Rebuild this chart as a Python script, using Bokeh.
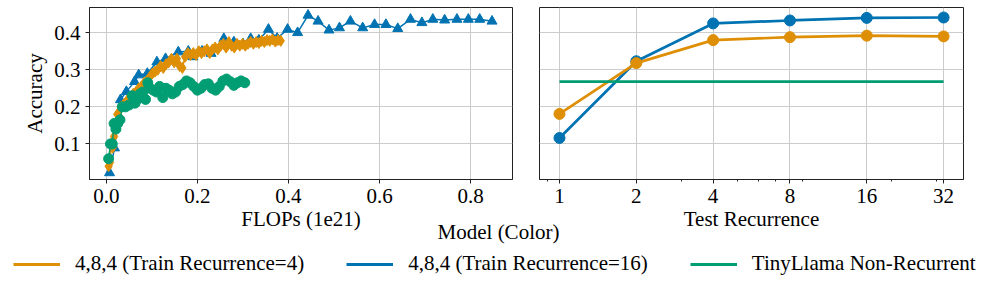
from bokeh.plotting import figure
from bokeh.models import Range1d, FixedTicker, PrintfTickFormatter, Legend, LegendItem, Label
from bokeh.layouts import row, column
from bokeh.embed import file_html
from bokeh.resources import INLINE

BLUE = "#0173B2"
ORANGE = "#DE8F05"
GREEN = "#029E73"
FONT = "Liberation Serif"
FS = "21px"

# ---------------- data: left panel (accuracy vs FLOPs, 1e21) ----------------
flops_r16 = [0.007, 0.018, 0.031, 0.044, 0.062, 0.071, 0.090, 0.111, 0.130, 0.158,
             0.180, 0.190, 0.210, 0.230, 0.258, 0.280, 0.300, 0.317, 0.335, 0.356,
             0.375, 0.398, 0.420, 0.443, 0.465, 0.489, 0.512, 0.536, 0.563, 0.589,
             0.614, 0.640, 0.668, 0.693, 0.717, 0.743, 0.770, 0.795, 0.820, 0.847]
acc_r16 = [0.022, 0.089, 0.219, 0.241, 0.268, 0.286, 0.290, 0.321, 0.330, 0.348,
           0.350, 0.335, 0.350, 0.344, 0.384, 0.375, 0.370, 0.384, 0.380, 0.409,
           0.385, 0.409, 0.400, 0.447, 0.431, 0.407, 0.413, 0.431, 0.413, 0.422,
           0.422, 0.411, 0.436, 0.427, 0.436, 0.434, 0.436, 0.436, 0.436, 0.431]

flops_r4 = [0.005, 0.008, 0.011, 0.014, 0.017, 0.020, 0.024, 0.028, 0.032, 0.037,
            0.042, 0.047, 0.053, 0.059, 0.065, 0.071, 0.077, 0.083, 0.089, 0.095,
            0.101, 0.107, 0.113, 0.119, 0.125, 0.131, 0.137, 0.143, 0.149, 0.155,
            0.161, 0.167, 0.173, 0.179, 0.185, 0.191, 0.197, 0.203, 0.209, 0.215,
            0.221, 0.227, 0.233, 0.239, 0.245, 0.251, 0.257, 0.263, 0.269, 0.275,
            0.281, 0.287, 0.293, 0.299, 0.305, 0.311, 0.317, 0.323, 0.329, 0.335,
            0.341, 0.347, 0.353, 0.359, 0.365, 0.371, 0.377, 0.383]
acc_r4 = [0.040, 0.050, 0.100, 0.090, 0.120, 0.140, 0.180, 0.175, 0.200, 0.205,
          0.210, 0.220, 0.225, 0.235, 0.240, 0.250, 0.255, 0.265, 0.270, 0.280,
          0.290, 0.295, 0.300, 0.310, 0.305, 0.315, 0.320, 0.330, 0.320, 0.330,
          0.310, 0.305, 0.335, 0.345, 0.340, 0.345, 0.340, 0.350, 0.345, 0.350,
          0.355, 0.345, 0.355, 0.360, 0.355, 0.365, 0.370, 0.360, 0.375, 0.365,
          0.360, 0.370, 0.365, 0.370, 0.365, 0.370, 0.375, 0.370, 0.375, 0.372,
          0.378, 0.375, 0.380, 0.378, 0.382, 0.376, 0.380, 0.378]

flops_tl = [0.005, 0.009, 0.013, 0.017, 0.021, 0.025, 0.030, 0.035, 0.042, 0.050,
            0.057, 0.063, 0.068, 0.074, 0.080, 0.086, 0.091, 0.096, 0.103, 0.110,
            0.117, 0.124, 0.131, 0.138, 0.145, 0.152, 0.160, 0.168, 0.176, 0.184,
            0.192, 0.200, 0.208, 0.216, 0.224, 0.232, 0.240, 0.248, 0.256, 0.264,
            0.272, 0.280, 0.288, 0.296, 0.304]
acc_tl = [0.060, 0.100, 0.100, 0.155, 0.140, 0.155, 0.165, 0.200, 0.200, 0.205,
          0.230, 0.210, 0.220, 0.235, 0.240, 0.220, 0.265, 0.250, 0.245, 0.240,
          0.255, 0.225, 0.250, 0.245, 0.235, 0.240, 0.255, 0.260, 0.270, 0.265,
          0.255, 0.245, 0.250, 0.260, 0.262, 0.250, 0.245, 0.255, 0.270, 0.275,
          0.268, 0.258, 0.265, 0.270, 0.265]

# ---------------- data: right panel (accuracy vs test recurrence) ----------------
test_recurrence = [1, 2, 4, 8, 16, 32]
rec_acc_r4 = [0.181, 0.318, 0.380, 0.388, 0.392, 0.390]
rec_acc_r16 = [0.116, 0.323, 0.425, 0.433, 0.440, 0.441]
rec_acc_tl = [0.268, 0.268, 0.268, 0.268, 0.268, 0.268]

x_ticks_left = [0.0, 0.2, 0.4, 0.6, 0.8]
y_ticks = [0.1, 0.2, 0.3, 0.4]
x_ticks_right = [1, 2, 4, 8, 16, 32]
x_minor_right = [0.9, 3, 5, 6, 7, 9, 20, 30]

labels = ["4,8,4 (Train Recurrence=4)", "4,8,4 (Train Recurrence=16)", "TinyLlama Non-Recurrent"]
colors = [ORANGE, BLUE, GREEN]
NAN = float("nan")


def style(p):
    p.outline_line_color = "#222222"
    p.outline_line_width = 1
    p.background_fill_color = "white"
    p.border_fill_color = "white"
    for ax in p.axis:
        ax.axis_line_color = "#222222"
        ax.major_tick_line_color = "#222222"
        ax.major_tick_out = 4
        ax.major_tick_in = 0
        ax.minor_tick_line_color = None
        ax.major_label_text_font = FONT
        ax.major_label_text_font_size = FS
        ax.major_label_text_color = "black"
        ax.axis_label_text_font = FONT
        ax.axis_label_text_font_size = FS
        ax.axis_label_text_font_style = "normal"
        ax.axis_label_text_color = "black"
        ax.major_label_standoff = 5
        ax.axis_label_standoff = 1
    for g in p.grid:
        g.grid_line_color = "#cccccc"
        g.grid_line_width = 1


FH = 172
TOP = 7
BOTTOM = 52

p1 = figure(frame_width=423, frame_height=FH, min_border_left=89, min_border_right=13,
            min_border_top=TOP, min_border_bottom=BOTTOM,
            x_range=Range1d(-0.037, 0.892), y_range=Range1d(0.004, 0.468),
            output_backend="svg", toolbar_location=None)
style(p1)
p1.xaxis.ticker = FixedTicker(ticks=x_ticks_left)
p1.yaxis.ticker = FixedTicker(ticks=y_ticks)
p1.xaxis.formatter = PrintfTickFormatter(format="%.1f")
p1.yaxis.formatter = PrintfTickFormatter(format="%.1f")
p1.xaxis.axis_label = "FLOPs (1e21)"
p1.yaxis.axis_label = "Accuracy"
p1.yaxis.axis_label_standoff = 4

p1.line(flops_r16, acc_r16, color=BLUE, line_width=1.5)
p1.scatter(flops_r16, acc_r16, marker="triangle", size=10, color=BLUE)
p1.line(flops_r4, acc_r4, color=ORANGE, line_width=1.5)
p1.scatter(flops_r4, acc_r4, marker="diamond", size=11, color=ORANGE)
p1.line(flops_tl, acc_tl, color=GREEN, line_width=1.5)
p1.scatter(flops_tl, acc_tl, marker="circle", size=10, color=GREEN)

p2 = figure(frame_width=424, frame_height=FH, min_border_left=14, min_border_right=10,
            min_border_top=TOP, min_border_bottom=BOTTOM,
            x_axis_type="log", x_range=Range1d(0.835, 38.3), y_range=p1.y_range,
            output_backend="svg", toolbar_location=None)
style(p2)
p2.xaxis.ticker = FixedTicker(ticks=x_ticks_right, minor_ticks=x_minor_right)
p2.xaxis.formatter = PrintfTickFormatter(format="%d")
p2.xaxis.minor_tick_line_color = "#222222"
p2.xaxis.minor_tick_out = 2
p2.xaxis.minor_tick_in = 0
p2.yaxis.visible = False
p2.ygrid.ticker = FixedTicker(ticks=y_ticks)
p2.xaxis.axis_label = "Test Recurrence"

p2.line(test_recurrence, rec_acc_r16, color=BLUE, line_width=2.7)
p2.scatter(test_recurrence, rec_acc_r16, marker="circle", size=11, color=BLUE)
p2.line(test_recurrence, rec_acc_r4, color=ORANGE, line_width=2.7)
p2.scatter(test_recurrence, rec_acc_r4, marker="circle", size=11, color=ORANGE)
p2.line(test_recurrence, rec_acc_tl, color=GREEN, line_width=2.7)

# ---------------- legend strip (pulled up to overlap the axis-label band) ----------------
OVERLAP = 14
LW, LH = 990, 71
pl = figure(width=LW, height=LH, min_border=0, x_range=Range1d(0, LW), y_range=Range1d(0, LH),
            x_axis_location=None, y_axis_location=None,
            output_backend="svg", toolbar_location=None)
pl.grid.visible = False
pl.outline_line_color = None
pl.background_fill_alpha = 0
pl.border_fill_alpha = 0
pl.margin = (-OVERLAP, 0, 0, 0)

items = []
for lab, col in zip(labels, colors):
    r = pl.line(x=[NAN], y=[NAN], color=col, line_width=3)
    items.append(LegendItem(label=lab, renderers=[r]))

legend = Legend(items=items, orientation="horizontal", location=(13, 14),
                glyph_width=47, glyph_height=24, label_height=24, label_standoff=15,
                spacing=42, padding=0, margin=0,
                label_text_font=FONT, label_text_font_size=FS, label_text_color="black",
                border_line_color=None, background_fill_alpha=0)
pl.add_layout(legend, "center")

pl.add_layout(Label(x=498, y=59, text="Model (Color)", text_align="center",
                    text_baseline="alphabetic", text_font=FONT, text_font_size=FS,
                    text_color="black"))

layout = column(row(p1, p2), pl)
open("out.html", "w").write(file_html(layout, INLINE))
